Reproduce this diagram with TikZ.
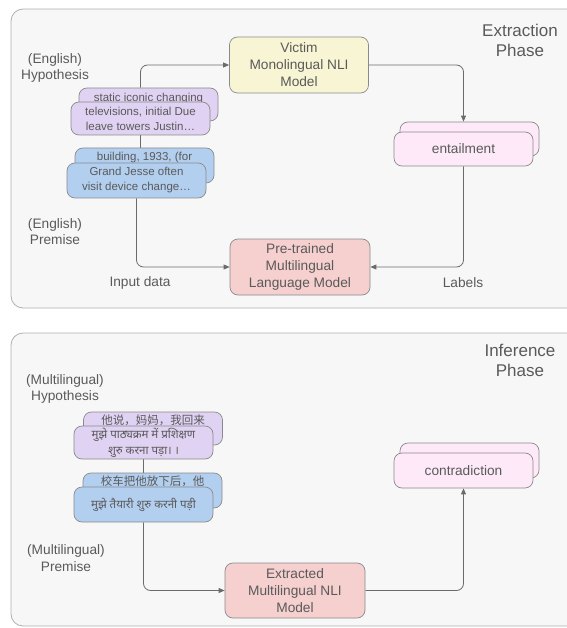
\documentclass[tikz,border=0pt]{standalone}
\usepackage{fontspec}
\setmainfont{Liberation Sans}
\newfontfamily\cjk{Noto Sans CJK SC}
\newfontfamily\deva[Script=Devanagari]{Noto Sans}
\usetikzlibrary{arrows.meta}
\definecolor{panelfill}{HTML}{F7F7F7}
\definecolor{panelline}{HTML}{B0B0B0}
\definecolor{boxline}{HTML}{8A8A8A}
\definecolor{hypfill}{HTML}{E0D2F2}
\definecolor{premfill}{HTML}{B3CFEF}
\definecolor{victimfill}{HTML}{F7F5D3}
\definecolor{pretfill}{HTML}{F6CFCF}
\definecolor{resfill}{HTML}{FDE9F8}
\definecolor{txt}{HTML}{5A5A5A}
\definecolor{edgecol}{HTML}{6B6B6B}
\pgfdeclarelayer{panel}
\pgfdeclarelayer{edges}
\pgfsetlayers{panel,edges,main}
\tikzset{
  box/.style={draw=boxline, rounded corners=8pt, line width=0.7pt, text=txt, align=center,
    inner sep=0pt, minimum width=139pt, minimum height=34pt},
  smallf/.style={font=\fontsize{11.5}{15}\selectfont},
  devaf/.style={font=\fontsize{11.5}{16}\selectfont\deva},
  cjkf/.style={font=\fontsize{11.5}{15}\selectfont\cjk},
  hypbox/.style={box, fill=hypfill, smallf},
  prembox/.style={box, fill=premfill, smallf},
  resbox/.style={box, fill=resfill, font=\fontsize{13.7}{17}\selectfont},
  modelbox/.style={box, minimum width=139pt, minimum height=56pt, font=\fontsize{13.7}{17}\selectfont},
  backtext/.style={label={[text=txt, anchor=north, inner sep=0pt, yshift=-5.5pt, #1]north:\backlabel}},
  lbl/.style={text=txt, align=center, font=\fontsize{13.7}{16.5}\selectfont},
  phase/.style={text=txt, align=center, font=\fontsize{17}{20}\selectfont},
  conn/.style={draw=edgecol, line width=0.8pt, rounded corners=7pt},
  arr/.style={conn, -{Triangle[length=6pt,width=5pt]}},
  panelbox/.style={draw=panelline, fill=panelfill, line width=0.8pt, rounded corners=12pt}
}
\begin{document}
\begin{tikzpicture}[x=1pt,y=-1pt]
\useasboundingbox (0,0) rectangle (566,628);
\begin{pgfonlayer}{panel}
\draw[panelbox] (11,9) rectangle (620,308);
\draw[panelbox] (11,333) rectangle (620,626);
\end{pgfonlayer}

% ---------- Extraction phase ----------
\node[phase] (extr) at (520,40) {Extraction\\Phase};
\node[lbl] (engHyp) at (55,68) {(English)\\Hypothesis};
\node[lbl] (engPrem) at (55,231.5) {(English)\\Premise};
\node[lbl] (inputlbl) at (140,283) {Input data};
\node[lbl] (labelslbl) at (463,283) {Labels};

\node[modelbox, fill=victimfill] (victim) at (299,65) {Victim\\Monolingual NLI\\Model};
\node[modelbox, fill=pretfill, minimum width=140pt] (pretrained) at (300,267) {Pre-trained\\Multilingual\\Language Model};

\node[hypbox, minimum height=33pt, label={[text=txt, anchor=north, inner sep=0pt, yshift=-5.5pt, smallf]north:static iconic changing}] (hypB) at (148.5,104.5) {};
\node[hypbox, minimum height=33pt] (hypF) at (140.5,118.5) {televisions, initial Due\\leave towers Justin…};

\node[prembox, minimum height=35pt, label={[text=txt, anchor=north, inner sep=0pt, yshift=-4.5pt, smallf]north:building, 1933, (for}] (premB) at (144.5,165.5) {};
\node[prembox, minimum height=35pt] (premF) at (136.5,180.5) {Grand Jesse often\\visit device change…};

\node[resbox] (entB) at (469.5,139) {};
\node[resbox] (entF) at (463.5,149) {entailment};

% ---------- Inference phase ----------
\node[phase] (infer) at (520,360) {Inference\\Phase};
\node[lbl] (multHyp) at (65,389) {(Multilingual)\\Hypothesis};
\node[lbl] (multPrem) at (66,558) {(Multilingual)\\Premise};

\node[hypbox, minimum height=33pt, label={[text=txt, anchor=north, inner sep=0pt, yshift=-3pt, cjkf]north:他说，妈妈，我回来}] (hypMB) at (153,428.5) {};
\node[hypbox, minimum height=33pt, devaf] (hypMF) at (143.5,442.5) {मुझे पाठ्यक्रम में प्रशिक्षण\\शुरु करना पड़ा। ।};

\node[prembox, minimum height=35pt, label={[text=txt, anchor=north, inner sep=0pt, yshift=-3pt, cjkf]north:校车把他放下后，他}] (premMB) at (152.5,490.5) {};
\node[prembox, minimum height=35pt, devaf] (premMF) at (143.5,504.5) {मुझे तैयारी शुरु करनी पड़ी};

\node[modelbox, fill=pretfill, minimum width=140pt, minimum height=55pt] (extracted) at (295,590.5) {Extracted\\Multilingual NLI\\Model};

\node[resbox, minimum height=35pt] (conB) at (469.5,460.5) {};
\node[resbox, minimum height=35pt] (conF) at (463.5,470.5) {contradiction};

\begin{pgfonlayer}{edges}
\draw[arr] (hypF.center |- hypB.north) |- (victim.west);
\draw[arr] (victim.east) -| (entF.center |- entB.north);
\draw[arr] (entF.south) |- (pretrained.east);
\draw[arr] (premF.south) |- (pretrained.west);
\draw[conn] (hypF.south) -- (hypF.south |- premB.north);
\draw[conn] (hypMF.south) -- (hypMF.south |- premMB.north);
\draw[arr] (premMF.south) |- (extracted.west);
\draw[arr] (extracted.east) -| (conF.south);
\end{pgfonlayer}
\end{tikzpicture}
\end{document}
